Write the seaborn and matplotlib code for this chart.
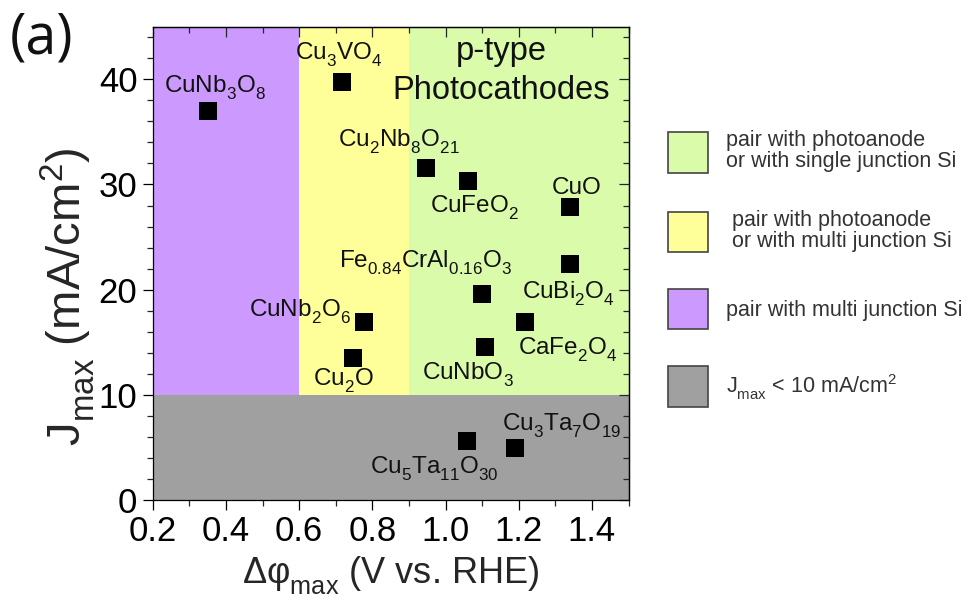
import numpy as np
import matplotlib
matplotlib.use("Agg")
import matplotlib.pyplot as plt
from matplotlib.patches import Patch
from matplotlib.ticker import MultipleLocator, FormatStrFormatter
import seaborn as sns

try:
    # drop chemical-formula subscripts a little lower than the default
    import matplotlib._mathtext as _mt
    _mt.FontConstantsBase.sub1 = 0.55
    _mt.FontConstantsBase.sub2 = 0.7
except Exception:
    pass

# ---- data -------------------------------------------------------------
materials = [
    "CuNb$_3$O$_8$", "Cu$_3$VO$_4$", "Cu$_2$Nb$_8$O$_{21}$", "CuFeO$_2$",
    "CuO", "CuBi$_2$O$_4$", "Fe$_{0.84}$CrAl$_{0.16}$O$_3$", "CuNb$_2$O$_6$",
    "CaFe$_2$O$_4$", "CuNbO$_3$", "Cu$_2$O", "Cu$_3$Ta$_7$O$_{19}$",
    "Cu$_5$Ta$_{11}$O$_{30}$",
]
dphi_max = [0.350, 0.718, 0.947, 1.062, 1.340, 1.341, 1.099, 0.778,
            1.217, 1.108, 0.748, 1.190, 1.058]
j_max = [36.98, 39.76, 31.53, 30.32, 27.88, 22.40, 19.58, 16.89,
         16.95, 14.57, 13.47, 4.91, 5.61]

# region boundaries (V vs. RHE) and current threshold (mA/cm2)
region_edges = [0.2, 0.6, 0.9, 1.5]
j_threshold = 10
j_top = 45

region_labels = [
    "pair with photoanode\nor with single junction Si",
    " pair with photoanode\n or with multi junction Si",
    "pair with multi junction Si",
    "J$_{max}$ < 10 mA/cm$^2$",
]

# ---- style ------------------------------------------------------------
sns.set_style("ticks")
plt.rcParams["font.family"] = ["Liberation Sans", "DejaVu Sans"]
plt.rcParams["mathtext.fontset"] = "custom"
plt.rcParams["mathtext.rm"] = "Liberation Sans"
plt.rcParams["mathtext.default"] = "regular"

purple = "#CC99FF"
yellow = "#FFFF99"
green = "#DAFCAA"
grey = "#A0A0A0"

# label offsets in pixels (left edge / baseline relative to the marker)
label_offsets = [(-44, 18), (-47, 22), (-88, 22), (-38, -32), (-18, 13),
                 (-48, -34), (-143, 26), (-115, 6), (-7, -33), (-63, -33),
                 (-40, -28), (-13, 18), (-97, -33)]

fig = plt.figure(figsize=(9.71, 6.0), dpi=100)
ax = fig.add_axes([152.7 / 971, 100 / 600, 475.8 / 971, 473.3 / 600])

# background regions
ax.fill_between([region_edges[0], region_edges[1]], j_threshold, j_top,
                color=purple, lw=0, zorder=0)
ax.fill_between([region_edges[1], region_edges[2]], j_threshold, j_top,
                color=yellow, lw=0, zorder=0)
ax.fill_between([region_edges[2], region_edges[3]], j_threshold, j_top,
                color=green, lw=0, zorder=0)
ax.fill_between([region_edges[0], region_edges[3]], 0, j_threshold,
                color=grey, lw=0, zorder=0)

sns.scatterplot(x=dphi_max, y=j_max, marker="s", s=150, color="black",
                linewidth=0, ax=ax, zorder=3, legend=False)

for name, x, y, (dx, dy) in zip(materials, dphi_max, j_max, label_offsets):
    ax.annotate(name, (x, y), xytext=(dx, dy), textcoords="offset pixels",
                ha="left", va="baseline", fontsize=17.5, color="#111111",
                zorder=4)

ax.text(1.152, 41.84, "p-type", ha="center", va="baseline", fontsize=23.5,
        color="#111111")
ax.text(1.152, 38.1, "Photocathodes", ha="center", va="baseline",
        fontsize=23.5, color="#111111")

ax.set_xlim(region_edges[0], region_edges[-1])
ax.set_ylim(0, j_top)

ax.xaxis.set_major_locator(MultipleLocator(0.2))
ax.xaxis.set_minor_locator(MultipleLocator(0.1))
ax.xaxis.set_major_formatter(FormatStrFormatter("%.1f"))
ax.yaxis.set_major_locator(MultipleLocator(10))
ax.yaxis.set_minor_locator(MultipleLocator(2))

ax.tick_params(which="major", direction="out", length=7, width=0.9,
               labelsize=25, pad=4, colors="black")
ax.tick_params(which="minor", direction="out", length=4, width=0.9)

# mirrored inward ticks on top and right
top = ax.secondary_xaxis("top")
top.xaxis.set_major_locator(MultipleLocator(0.2))
top.xaxis.set_minor_locator(MultipleLocator(0.1))
top.tick_params(which="major", direction="in", length=7, width=0.9,
                labeltop=False)
top.tick_params(which="minor", direction="in", length=4, width=0.9)
right = ax.secondary_yaxis("right")
right.yaxis.set_major_locator(MultipleLocator(10))
right.yaxis.set_minor_locator(MultipleLocator(2))
right.tick_params(which="major", direction="in", length=7, width=0.9,
                  labelright=False)
right.tick_params(which="minor", direction="in", length=4, width=0.9)

for a in (ax, top, right):
    for sp in a.spines.values():
        sp.set_linewidth(0.9)
        sp.set_color("black")

ax.set_xlabel("Δφ$_{max}$ (V vs. RHE)", fontsize=26, labelpad=4)
ax.set_ylabel("J$_{max}$ (mA/cm$^2$)", fontsize=34)
ax.yaxis.set_label_coords(-0.117, 0.43)

fig.text(10 / 971, 1 - 54 / 600, "(a)", fontsize=40, family="Open Sans",
         va="baseline", ha="left", color="#111111")

# legend for the shaded regions
handles = [Patch(facecolor=c, edgecolor="#444444", linewidth=1.2)
           for c in (green, yellow, purple, grey)]
leg = fig.legend(handles, region_labels, loc="upper left",
                 bbox_to_anchor=(668 / 971, 1 - 130 / 600), frameon=False,
                 fontsize=15.5, handlelength=1.85, handleheight=2.5,
                 handletextpad=0.85, labelspacing=1.72, borderpad=0,
                 borderaxespad=0)
for t in leg.get_texts():
    t.set_color("#333333")
    t.set_linespacing(1.0)

fig.savefig("out.png", dpi=100)
